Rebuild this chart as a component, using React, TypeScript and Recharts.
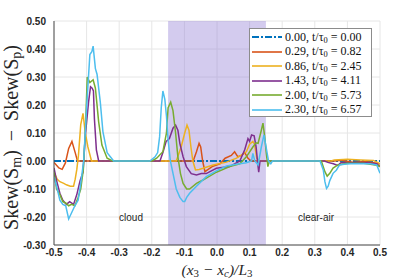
import React from 'react';
import {
  LineChart,
  Line,
  XAxis,
  YAxis,
  CartesianGrid,
  ReferenceArea,
} from 'recharts';

const xTicks = [-0.5, -0.4, -0.3, -0.2, -0.1, 0, 0.1, 0.2, 0.3, 0.4, 0.5];
const yTicks = [-0.3, -0.2, -0.1, 0, 0.1, 0.2, 0.3, 0.4, 0.5];
const cloudBand = [-0.15, 0.15];

const s000 = [[-0.5, 0], [0.5, 0]];

const s029 = [
  [-0.5, -0.005], [-0.485, -0.025], [-0.475, -0.03], [-0.465, -0.007], [-0.455, 0.045], [-0.445, 0.07],
  [-0.435, 0.03], [-0.428, 0], [-0.3, 0], [-0.2, 0], [-0.073, 0], [-0.063, 0.033], [-0.055, 0.063],
  [-0.05, 0.05], [-0.044, 0], [-0.037, -0.038], [-0.027, -0.03], [-0.015, -0.02], [0.009, -0.01],
  [0.025, 0.01], [0.044, 0.02], [0.054, 0.033], [0.064, 0.015], [0.075, 0.02], [0.085, 0.03],
  [0.095, 0.01], [0.105, 0], [0.3, 0], [0.36, 0], [0.38, 0.003], [0.42, -0.005], [0.45, -0.002],
  [0.48, -0.006], [0.5, -0.01],
];

const s086 = [
  [-0.5, -0.04], [-0.49, -0.065], [-0.482, -0.074], [-0.47, -0.08], [-0.462, -0.085], [-0.45, -0.09],
  [-0.44, -0.09], [-0.435, -0.065], [-0.43, -0.03], [-0.425, 0.02], [-0.418, 0.13], [-0.411, 0.17],
  [-0.404, 0.1], [-0.396, 0.05], [-0.385, 0], [-0.125, 0], [-0.11, 0.05], [-0.099, 0.1], [-0.092, 0.128],
  [-0.086, 0.11], [-0.08, 0.05], [-0.074, 0], [-0.066, -0.032], [-0.055, -0.03], [-0.043, -0.026],
  [-0.012, -0.014], [0.029, -0.004], [0.06, 0.01], [0.09, 0.033], [0.1, 0.06], [0.11, 0.07],
  [0.115, 0.06], [0.122, 0.01], [0.13, 0], [0.35, 0], [0.36, 0.004], [0.4, 0.006], [0.44, 0.004],
  [0.48, 0.002], [0.5, -0.01],
];

const s143 = [
  [-0.5, -0.025], [-0.492, -0.07], [-0.482, -0.115], [-0.473, -0.14], [-0.462, -0.155], [-0.452, -0.145],
  [-0.44, -0.155], [-0.43, -0.12], [-0.42, -0.07], [-0.411, -0.04], [-0.404, 0.09], [-0.394, 0.21],
  [-0.388, 0.265], [-0.383, 0.26], [-0.379, 0.25], [-0.376, 0.15], [-0.37, 0.04], [-0.363, 0],
  [-0.175, 0], [-0.166, 0.03], [-0.156, 0.07], [-0.146, 0.08], [-0.135, 0.117], [-0.127, 0.128],
  [-0.12, 0.11], [-0.114, 0.063], [-0.104, 0.015], [-0.094, -0.02], [-0.079, -0.045], [-0.063, -0.05],
  [-0.048, -0.045], [-0.033, -0.045], [-0.002, -0.026], [0.039, -0.02], [0.07, 0], [0.085, 0.04],
  [0.095, 0.08], [0.1, 0.07], [0.106, 0.093], [0.114, 0.09], [0.12, 0.05], [0.125, -0.01],
  [0.128, -0.04], [0.132, 0], [0.33, 0], [0.34, -0.005], [0.357, -0.01], [0.37, -0.016],
  [0.38, -0.006], [0.45, -0.005], [0.49, -0.01], [0.5, -0.02],
];

const s200 = [
  [-0.5, -0.04], [-0.492, -0.1], [-0.482, -0.12], [-0.473, -0.145], [-0.464, -0.15], [-0.455, -0.16],
  [-0.446, -0.155], [-0.436, -0.16], [-0.426, -0.13], [-0.418, -0.1], [-0.41, -0.03], [-0.404, 0.1],
  [-0.398, 0.3], [-0.39, 0.28], [-0.38, 0.29], [-0.373, 0.26], [-0.363, 0.14], [-0.353, 0.057],
  [-0.337, 0.01], [-0.32, 0], [-0.2, 0], [-0.185, 0.01], [-0.166, 0.033], [-0.155, 0.1], [-0.15, 0.19],
  [-0.142, 0.21], [-0.135, 0.18], [-0.127, 0.1], [-0.12, 0.015], [-0.112, -0.045], [-0.104, -0.08],
  [-0.093, -0.1], [-0.084, -0.1], [-0.063, -0.08], [-0.043, -0.068], [-0.002, -0.04], [0.039, -0.02],
  [0.07, -0.01], [0.09, 0.015], [0.11, 0.05], [0.12, 0.065], [0.126, 0.063], [0.136, 0.11],
  [0.141, 0.135], [0.146, 0.09], [0.151, 0.03], [0.156, -0.02], [0.161, 0], [0.32, 0], [0.331, -0.038],
  [0.338, -0.054], [0.346, -0.044], [0.356, -0.025], [0.371, -0.014], [0.4, -0.008], [0.45, -0.008],
  [0.49, -0.015], [0.5, -0.02],
];

const s230 = [
  [-0.5, -0.056], [-0.492, -0.09], [-0.482, -0.14], [-0.473, -0.155], [-0.464, -0.16], [-0.455, -0.207],
  [-0.446, -0.185], [-0.436, -0.16], [-0.426, -0.14], [-0.418, -0.08], [-0.409, 0], [-0.399, 0.21],
  [-0.39, 0.38], [-0.384, 0.39], [-0.38, 0.41], [-0.373, 0.33], [-0.368, 0.31], [-0.358, 0.21],
  [-0.35, 0.105], [-0.337, 0.03], [-0.317, 0], [-0.206, 0], [-0.19, 0.015], [-0.182, 0.03],
  [-0.176, 0.087], [-0.171, 0.19], [-0.166, 0.25], [-0.16, 0.22], [-0.155, 0.16], [-0.15, 0.075],
  [-0.143, 0], [-0.135, -0.044], [-0.125, -0.1], [-0.114, -0.13], [-0.104, -0.145], [-0.099, -0.145],
  [-0.093, -0.13], [-0.084, -0.115], [-0.063, -0.09], [-0.033, -0.056], [-0.002, -0.035], [0.029, -0.018],
  [0.06, -0.012], [0.09, -0.006], [0.106, 0], [0.11, 0.027], [0.116, 0], [0.126, -0.014], [0.136, 0.05],
  [0.144, 0.093], [0.149, 0.06], [0.158, 0], [0.165, -0.01], [0.17, 0], [0.316, 0], [0.326, -0.032],
  [0.331, -0.074], [0.336, -0.098], [0.341, -0.09], [0.346, -0.07], [0.356, -0.044], [0.366, -0.033],
  [0.376, -0.014], [0.39, -0.012], [0.41, -0.01], [0.44, -0.01], [0.47, -0.01], [0.49, -0.014],
  [0.5, -0.044],
];

const series = [
  { key: 'a', pts: s000, color: '#0072BD', phi: '0.00', t: '0.00', dash: '7 2 2 2', width: 2 },
  { key: 'b', pts: s029, color: '#D95319', phi: '0.29', t: '0.82' },
  { key: 'c', pts: s086, color: '#EDB120', phi: '0.86', t: '2.45' },
  { key: 'd', pts: s143, color: '#7E2F8E', phi: '1.43', t: '4.11' },
  { key: 'e', pts: s200, color: '#77AC30', phi: '2.00', t: '5.73' },
  { key: 'f', pts: s230, color: '#4DBEEE', phi: '2.30', t: '6.57' },
];

const toRows = (pts: number[][]) => pts.map(([x, y]) => ({ x, y }));

const sans = '"Liberation Sans", Arial, sans-serif';
const serif = '"Liberation Serif", "DejaVu Serif", serif';
const tickStyle = { fontFamily: sans, fontSize: 10, fontWeight: 700, fill: '#262626' };
const sub = { fontSize: '0.7em', verticalAlign: '-0.25em', lineHeight: 0 };
const xsub = { fontSize: '0.7em', verticalAlign: '-0.15em', lineHeight: 0 };

const LegendBox = () => (
  <div
    style={{
      position: 'absolute',
      left: 249,
      top: 28,
      width: 123,
      height: 89,
      boxSizing: 'border-box',
      background: '#fff',
      border: '1px solid #8c8c8c',
      padding: '1px 2px',
      fontFamily: serif,
      fontSize: 12,
      color: '#111',
    }}
  >
    {series.map((s) => (
      <div key={s.key} style={{ display: 'flex', alignItems: 'center', height: 14.5 }}>
        <svg width={30} height={6} style={{ marginRight: 3, flex: 'none' }}>
          <line x1={0} y1={3} x2={30} y2={3} stroke={s.color} strokeWidth={s.width || 1.6} strokeDasharray={s.dash} />
        </svg>
        <span style={{ whiteSpace: 'nowrap' }}>
          {s.phi}, t/τ<sub style={sub}>0</sub> = {s.t}
        </span>
      </div>
    ))}
  </div>
);

export default function App() {
  return (
    <div style={{ position: 'absolute', left: 0, top: 0, width: 399, height: 280, background: '#fff', overflow: 'hidden' }}>
      <LineChart width={399} height={280} margin={{ top: 21, right: 19, bottom: 0, left: 0 }}>
        <ReferenceArea x1={cloudBand[0]} x2={cloudBand[1]} y1={-0.3} y2={0.5} fill="#9682d7" fillOpacity={0.42} stroke="none" />
        <CartesianGrid stroke="#e6e6e6" />
        <XAxis
          type="number"
          dataKey="x"
          domain={[-0.5, 0.5]}
          ticks={xTicks}
          tickFormatter={(v: number) => v.toFixed(1)}
          tick={tickStyle}
          tickLine={false}
          tickSize={0}
          tickMargin={4}
          height={35}
          stroke="#4d4d4d"
          allowDataOverflow
        />
        <YAxis
          type="number"
          domain={[-0.3, 0.5]}
          ticks={yTicks}
          tickFormatter={(v: number) => v.toFixed(2)}
          tick={tickStyle}
          tickLine={false}
          tickSize={0}
          tickMargin={8}
          width={54}
          stroke="#4d4d4d"
          allowDataOverflow
        />
        {series.map((s) => (
          <Line
            key={s.key}
            data={toRows(s.pts)}
            dataKey="y"
            type="linear"
            stroke={s.color}
            strokeWidth={s.width || 1.5}
            strokeDasharray={s.dash}
            dot={false}
            isAnimationActive={false}
          />
        ))}
      </LineChart>
      <LegendBox />
      <div style={{ position: 'absolute', left: 131, top: 217, transform: 'translate(-50%, -50%)', fontFamily: sans, fontSize: 10, color: '#262626' }}>
        cloud
      </div>
      <div style={{ position: 'absolute', left: 316, top: 217, transform: 'translate(-50%, -50%)', fontFamily: sans, fontSize: 10, color: '#262626' }}>
        clear-air
      </div>
      <div style={{ position: 'absolute', left: 117, top: 262, width: 200, height: 15, display: 'flex', justifyContent: 'center', alignItems: 'center' }}>
        <span style={{ fontFamily: serif, fontStyle: 'italic', fontSize: 15.5, lineHeight: 1, color: '#262626', whiteSpace: 'nowrap' }}>
          (x<sub style={{ ...xsub, fontStyle: 'normal' }}>3</sub> − x<sub style={xsub}>c</sub>)/L<sub style={{ ...xsub, fontStyle: 'normal' }}>3</sub>
        </span>
      </div>
      <div style={{ position: 'absolute', left: 0, top: 37, width: 22, height: 200, display: 'flex', justifyContent: 'center', alignItems: 'center' }}>
        <span style={{ display: 'inline-block', transform: 'rotate(-90deg)', fontFamily: serif, fontSize: 20, color: '#262626', whiteSpace: 'nowrap' }}>
          Skew(S<sub style={sub}>m</sub>)<span style={{ margin: '0 0.45em' }}>−</span>Skew(S<sub style={sub}>p</sub>)
        </span>
      </div>
    </div>
  );
}
